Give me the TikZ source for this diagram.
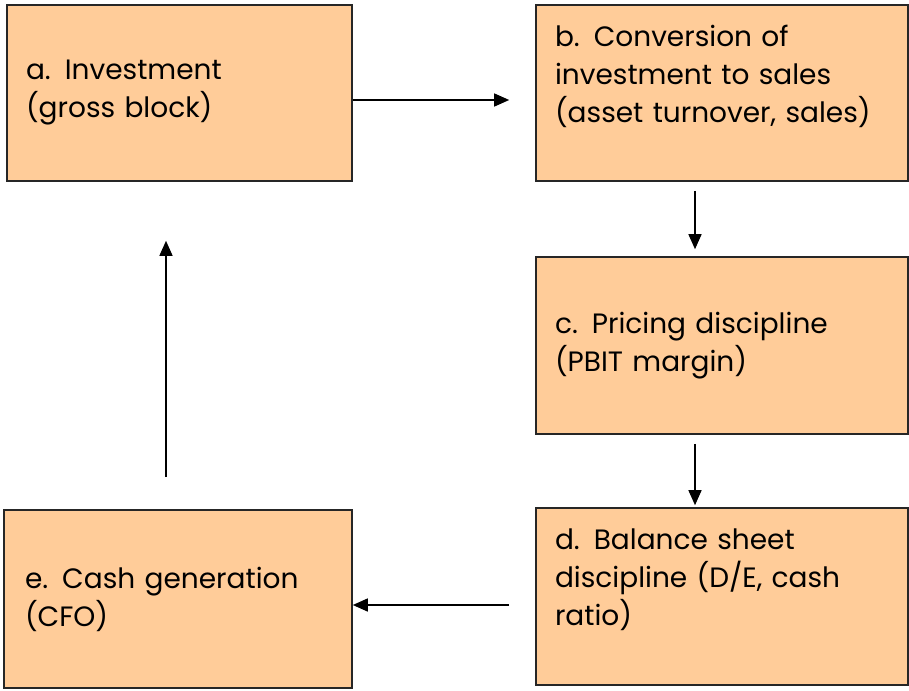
\documentclass[tikz,border=0pt]{standalone}
\usepackage{fontspec}
\setmainfont{Poppins}
\usetikzlibrary{arrows.meta}

\definecolor{peach}{HTML}{FFCC99}

\tikzset{
  card/.style={draw=black!85, line width=1.6pt, fill=peach, inner sep=0pt,
    align=left, font=\fontsize{28}{38}\selectfont},
  link/.style={line width=1.4pt, -{Triangle[length=15pt,width=13pt]}}
}

\begin{document}
\begin{tikzpicture}[x=1pt,y=-1pt]
		\useasboundingbox (0,0) rectangle (909,690);
		
		\node [card, minimum width=345pt, minimum height=176pt, text width=307pt] (a) at (179.5,93)
		  {a. Investment\\(gross block)};
		\node [card, minimum width=372pt, minimum height=176pt, text width=334pt] (b) at (722,93)
		  {b. Conversion of\\investment to sales\\(asset turnover, sales)\\~};
		\node [card, minimum width=372pt, minimum height=177pt, text width=334pt] (c) at (722,345.5)
		  {c. Pricing discipline\\(PBIT margin)};
		\node [card, minimum width=372pt, minimum height=177pt, text width=334pt] (d) at (722,596.5)
		  {d. Balance sheet\\discipline (D/E, cash\\ratio)\\~};
		\node [card, minimum width=348pt, minimum height=178pt, text width=306pt] (e) at (178,599)
		  {e. Cash generation\\(CFO)};
		
		\draw [link, shorten >=26pt] ([yshift=-7pt]a.east) -- ([yshift=-7pt]a.east -| b.west);
		\draw [link, shorten <=9pt, shorten >=7pt] ([xshift=-27pt]b.south) -- ([xshift=-27pt]c.north);
		\draw [link, shorten <=9pt, shorten >=2pt] ([xshift=-27pt]c.south) -- ([xshift=-27pt]d.north);
		\draw [link, shorten <=26pt] ([yshift=-8.5pt]d.west) -- ([yshift=-8.5pt]d.west -| e.east);
		\draw [link, shorten <=32pt, shorten >=59pt] ([xshift=-12pt]e.north) -- ([xshift=-12pt]e.north |- a.south);
		
		\end{tikzpicture}
\end{document}
